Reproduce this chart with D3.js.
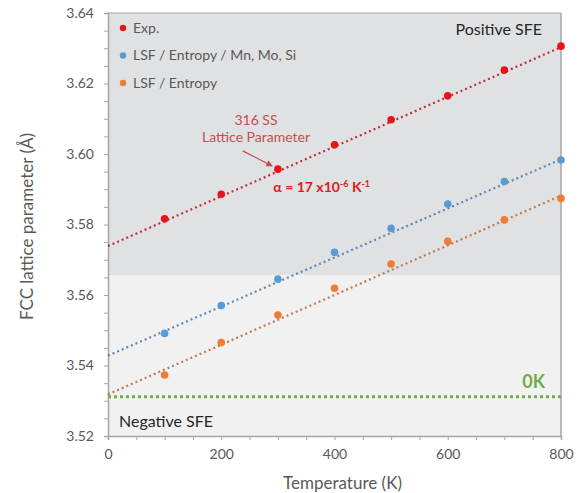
<!DOCTYPE html>
<html>
<head>
<meta charset="utf-8">
<script src="https://cdn.jsdelivr.net/npm/d3@7"></script>
<style>
body { margin: 0; background: #fff; }
text { font-family: Lato, "Open Sans", sans-serif; }
</style>
</head>
<body>
<div id="chart"></div>
<script>
// data
const temps = [100, 200, 300, 400, 500, 600, 700, 800];
const expVals = [3.5816, 3.5886, 3.5957, 3.6026, 3.6097, 3.6165, 3.6238, 3.6306];
const mnMoSiVals = [3.5491, 3.5570, 3.5645, 3.5721, 3.5789, 3.5858, 3.5922, 3.5983];
const entropyVals = [3.5373, 3.5465, 3.5543, 3.5619, 3.5688, 3.5752, 3.5813, 3.5874];
// linear trend lines, value at T = 0 and T = 800
const trendEnds = [0, 800];
const expTrend = [3.5739, 3.6303];
const mnMoSiTrend = [3.5428, 3.5985];
const entropyTrend = [3.5318, 3.5882];
const zeroK = 3.5311;
const sfeBoundary = 3.5656;
const seriesNames = ["Exp.", "LSF / Entropy / Mn,  Mo, Si", "LSF / Entropy"];
const xTicks = [0, 200, 400, 600, 800];
const yTicks = [3.52, 3.54, 3.56, 3.58, 3.60, 3.62, 3.64];

const margin = {top: 13, right: 22, bottom: 57, left: 108},
  width = 583 - margin.left - margin.right,
  height = 493 - margin.top - margin.bottom;

const svg = d3.select("#chart")
  .append("svg")
  .attr("width", 583)
  .attr("height", 493)
  .append("g")
  .attr("transform", `translate(${margin.left},${margin.top})`);

const x = d3.scaleLinear().domain([0, 800]).range([0, width]);
const y = d3.scaleLinear().domain([3.52, 3.64]).range([height, 0]);

// shaded SFE regions
svg.append("rect")
  .attr("x", 0).attr("y", 0)
  .attr("width", width).attr("height", y(sfeBoundary))
  .attr("fill", "#e0e1e3");
svg.append("rect")
  .attr("x", 0).attr("y", y(sfeBoundary))
  .attr("width", width).attr("height", height - y(sfeBoundary))
  .attr("fill", "#f1f1f1");

// axes
const axisColor = "#a6a6a6";
const xAxis = svg.append("g")
  .attr("transform", `translate(0,${height})`)
  .call(d3.axisBottom(x).ticks(16).tickSize(4).tickFormat(d => xTicks.includes(d) ? d : ""));
const yAxis = svg.append("g")
  .call(d3.axisLeft(y).ticks(24).tickSize(4).tickFormat(d => {
    const hit = yTicks.find(t => Math.abs(t - d) < 1e-6);
    return hit !== undefined ? hit.toFixed(2) : "";
  }));
[xAxis, yAxis].forEach(a => {
  a.select(".domain").attr("stroke", axisColor).attr("stroke-width", 1.5);
  a.selectAll(".tick line").attr("stroke", axisColor);
  a.selectAll(".tick text").attr("fill", "#595959").style("font-size", "14px");
});
xAxis.selectAll(".tick text").attr("dy", "1.15em");
yAxis.selectAll(".tick text").attr("dx", "-0.5em");

// right and top frame
svg.append("line").attr("x1", width).attr("x2", width).attr("y1", 0).attr("y2", height)
  .attr("stroke", axisColor).attr("stroke-width", 1.5);
svg.append("line").attr("x1", 0).attr("x2", width).attr("y1", 0).attr("y2", 0)
  .attr("stroke", axisColor).attr("stroke-width", 1);

// 0K line
svg.append("line")
  .attr("x1", x(0)).attr("x2", x(800))
  .attr("y1", y(zeroK)).attr("y2", y(zeroK))
  .attr("stroke", "#70ad47").attr("stroke-width", 3)
  .attr("stroke-dasharray", "3 3");

// series
const series = [
  {vals: expVals, trend: expTrend, dot: "#e8141c", line: "#c0303c"},
  {vals: mnMoSiVals, trend: mnMoSiTrend, dot: "#5b9bd5", line: "#5f86b6"},
  {vals: entropyVals, trend: entropyTrend, dot: "#ed7d31", line: "#c07a50"}
];

const line = d3.line().x(d => x(d[0])).y(d => y(d[1]));

series.forEach(s => {
  svg.append("path")
    .datum(trendEnds.map((t, i) => [t, s.trend[i]]))
    .attr("d", line)
    .attr("fill", "none")
    .attr("stroke", s.line)
    .attr("stroke-width", 2.2)
    .attr("stroke-dasharray", "2 3");
  svg.selectAll(null)
    .data(temps.map((t, i) => [t, s.vals[i]]))
    .join("circle")
    .attr("cx", d => x(d[0]))
    .attr("cy", d => y(d[1]))
    .attr("r", 3.8)
    .attr("fill", s.dot);
});

// legend
const legend = svg.append("g").attr("transform", "translate(15,15)");
seriesNames.forEach((name, i) => {
  legend.append("circle")
    .attr("cx", 0).attr("cy", i * 27.5)
    .attr("r", 3.2).attr("fill", series[i].dot);
  legend.append("text")
    .attr("x", 10).attr("y", i * 27.5)
    .attr("dy", "0.35em")
    .attr("fill", "#595959")
    .style("font-size", "14px")
    .text(name);
});

// region labels
svg.append("text")
  .attr("x", width - 19).attr("y", 22)
  .attr("text-anchor", "end")
  .attr("fill", "#262626")
  .style("font-size", "16px")
  .text("Positive SFE");
svg.append("text")
  .attr("x", 11).attr("y", 414)
  .attr("fill", "#262626")
  .style("font-size", "16px")
  .text("Negative SFE");
svg.append("text")
  .attr("x", width - 16).attr("y", y(zeroK) - 9)
  .attr("text-anchor", "end")
  .attr("fill", "#70ad47")
  .style("font-size", "18px")
  .style("font-weight", "bold")
  .text("0K");

// annotation
const annColor = "#c0504d";
svg.append("text")
  .attr("x", 148).attr("y", 112)
  .attr("text-anchor", "middle")
  .attr("fill", annColor)
  .style("font-size", "14px")
  .text("316 SS");
svg.append("text")
  .attr("x", 148).attr("y", 129)
  .attr("text-anchor", "middle")
  .attr("fill", annColor)
  .style("font-size", "14px")
  .text("Lattice Parameter");
svg.append("defs").append("marker")
  .attr("id", "arrow")
  .attr("viewBox", "0 0 10 10")
  .attr("refX", 9).attr("refY", 5)
  .attr("markerWidth", 5).attr("markerHeight", 5)
  .attr("orient", "auto")
  .append("path").attr("d", "M0,0L10,5L0,10z").attr("fill", annColor);
svg.append("line")
  .attr("x1", x(238)).attr("y1", y(3.6009))
  .attr("x2", x(290)).attr("y2", y(3.5966))
  .attr("stroke", annColor).attr("stroke-width", 1.3)
  .attr("marker-end", "url(#arrow)");

const alpha = svg.append("text")
  .attr("x", x(292)).attr("y", 179)
  .attr("fill", "#e01b22")
  .style("font-size", "14px")
  .style("font-weight", "bold");
alpha.append("tspan").text("\u03b1 = 17 x10");
alpha.append("tspan").attr("dy", -5).style("font-size", "9px").text("-6");
alpha.append("tspan").attr("dy", 5).text(" K");
alpha.append("tspan").attr("dy", -5).style("font-size", "9px").text("-1");

// axis titles
svg.append("text")
  .attr("x", width / 2 + 8).attr("y", height + 53)
  .attr("text-anchor", "middle")
  .attr("fill", "#595959")
  .style("font-size", "17px")
  .text("Temperature (K)");
svg.append("text")
  .attr("transform", `translate(${-75},${height / 2 + 2}) rotate(-90)`)
  .attr("text-anchor", "middle")
  .attr("fill", "#595959")
  .style("font-size", "17px")
  .text("FCC lattice parameter (\u00c5)");
</script>
</body>
</html>
